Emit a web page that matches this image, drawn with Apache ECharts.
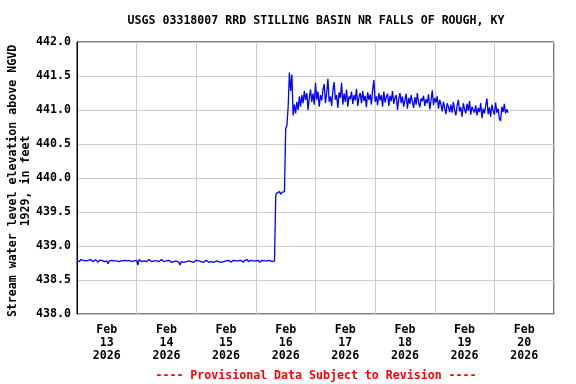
<!DOCTYPE html>
<html>
<head>
<meta charset="utf-8">
<script src="https://cdn.jsdelivr.net/npm/echarts@6/dist/echarts.min.js"></script>
<style>html,body{margin:0;padding:0;background:#fff}#c{width:576px;height:384px}</style>
</head>
<body>
<div id="c"></div>
<script>
const titleText = 'USGS 03318007 RRD STILLING BASIN NR FALLS OF ROUGH, KY';
const footerText = '---- Provisional Data Subject to Revision ----';
const yAxisName = 'Stream water level elevation above NGVD\n1929, in feet';
const dayLabels = ['Feb\n13\n2026','Feb\n14\n2026','Feb\n15\n2026','Feb\n16\n2026','Feb\n17\n2026','Feb\n18\n2026','Feb\n19\n2026','Feb\n20\n2026'];
const yMin = 438.0, yMax = 442.0, yStep = 0.5;
const stepHours = 0.5; // readings every 30 minutes from Feb 13 00:00
const totalHours = 192;

const baseline = [
438.78,438.79,438.77,438.80,438.78,438.79,438.81,438.78,438.77,438.79,438.78,438.80,438.79,438.77,438.78,438.80,438.78,438.76,438.79,438.78,
438.79,438.78,438.77,438.79,438.78,438.74,438.78,438.80,438.79,438.77,438.78,438.79,438.78,438.80,438.77,438.79,438.78,438.77,438.79,438.78,
438.78,438.80,438.79,438.78,438.77,438.79,438.78,438.76,438.79,438.72,438.80,438.78,438.77,438.79,438.78,438.79,438.77,438.78,438.80,438.78,
438.77,438.79,438.78,438.76,438.78,438.79,438.77,438.78,438.80,438.78,438.77,438.79,438.78,438.77,438.79,438.78,438.76,438.78,438.77,438.79,
438.78,438.77,438.76,438.72,438.77,438.78,438.76,438.78,438.77,438.79,438.78,438.76,438.77,438.78,438.76,438.77,438.79,438.77,438.78,438.76,
438.77,438.78,438.76,438.77,438.79,438.77,438.76,438.78,438.77,438.78,438.76,438.77,438.78,438.80,438.77,438.78,438.76,438.78,438.77,438.79,
438.78,438.77,438.79,438.78,438.76,438.78,438.79,438.77,438.78,438.80,438.78,438.77,438.79,438.78,438.76,438.79,438.78,438.80,438.77,438.78,
438.79,438.77,438.78,438.80,438.78,438.77,438.79,438.76,438.78,438.79,438.77,438.78,438.80,438.78,438.76,438.79,438.78,438.77,438.79,438.78
];
const firstRise = [439.75,439.78,439.77,439.80,439.76,439.79,439.78,439.80];
const secondRise = [440.72,440.78,441.05,441.55,441.28,441.52,440.92,441.08,440.95,441.12,441.00,441.20,441.05];
const highStage = [
441.22,441.10,441.28,441.15,441.25,441.00,441.18,441.30,441.12,441.24,441.08,441.40,441.15,441.27,441.05,441.22,441.14,441.30,441.38,441.10,
441.25,441.46,441.12,441.20,441.06,441.28,441.41,441.15,441.22,441.03,441.26,441.18,441.40,441.08,441.24,441.12,441.30,441.05,441.20,441.16,
441.27,441.09,441.22,441.14,441.31,441.06,441.19,441.25,441.10,441.28,441.13,441.21,441.04,441.26,441.15,441.23,441.08,441.30,441.44,441.12,
441.20,441.07,441.25,441.14,441.22,441.05,441.27,441.11,441.19,441.24,441.06,441.21,441.13,441.28,441.09,441.18,441.22,441.00,441.16,441.25
];
const recession = [
441.10,441.20,441.05,441.15,441.24,441.02,441.18,441.09,441.22,441.12,441.03,441.19,441.08,441.25,441.11,441.04,441.17,441.13,441.21,441.06,
441.16,441.10,441.23,441.01,441.14,441.29,441.07,441.18,441.11,441.20,441.02,441.15,441.08,440.98,441.12,441.03,440.94,441.10,441.05,440.97,
441.08,440.96,441.12,441.00,440.92,441.06,441.15,440.98,441.04,440.90,441.10,441.01,440.95,441.09,440.99,441.13,440.93,441.05,441.00,440.96,
441.07,440.92,441.03,440.97,441.10,440.88,441.02,440.95,441.06,441.17,440.94,441.04,440.90,441.08,440.99,440.93,441.11,440.96,441.02,440.87,
440.84,441.05,440.97,441.09,440.95,441.01,440.96
];

const levels = baseline.concat(firstRise, secondRise, highStage, recession);
const seriesData = levels.map((v, i) => [i * stepHours, v]);

const FONT = 'DejaVu Sans Mono';
const FONT_CSS = 'bold 11.6px "DejaVu Sans Mono"';
const chart = echarts.init(document.getElementById('c'), null, {renderer: 'canvas'});
chart.setOption({
  animation: false,
  backgroundColor: '#fff',
  graphic: [
    {type: 'text', x: 316, y: 21, style: {text: titleText, textAlign: 'center', textVerticalAlign: 'middle',
      font: FONT_CSS, fill: '#000'}},
    {type: 'text', x: 316, y: 376, style: {text: footerText, textAlign: 'center', textVerticalAlign: 'middle',
      font: FONT_CSS, fill: '#ff0000'}},
    {type: 'text', x: 19, y: 181, rotation: Math.PI / 2, style: {text: yAxisName, textAlign: 'center', textVerticalAlign: 'middle',
      font: FONT_CSS, fill: '#000', lineHeight: 13}}
  ],
  grid: {left: 77, right: 22, top: 42, bottom: 70, containLabel: false, outerBoundsMode: 'none',
    show: true, borderColor: '#000', borderWidth: 1, backgroundColor: 'transparent'},
  xAxis: [
    {type: 'value', min: 0, max: totalHours, interval: 24,
     axisLine: {show: false}, axisTick: {show: false}, axisLabel: {show: false},
     splitLine: {show: true, lineStyle: {color: '#cccccc', width: 1}}},
    {type: 'category', data: dayLabels, boundaryGap: true, position: 'bottom',
     axisLine: {show: false}, axisTick: {show: false}, splitLine: {show: false},
     axisLabel: {fontFamily: FONT, fontWeight: 'bold', fontSize: 11.6, color: '#000', lineHeight: 13, margin: 9, interval: 0}}
  ],
  yAxis: {
    type: 'value', min: yMin, max: yMax, interval: yStep,
    axisLine: {show: true, lineStyle: {color: '#000'}}, axisTick: {show: false},
    axisLabel: {fontFamily: FONT, fontWeight: 'bold', fontSize: 11.6, color: '#000', margin: 6,
      formatter: v => v.toFixed(1)},
    splitLine: {show: true, lineStyle: {color: '#cccccc', width: 1}}
  },
  series: [{
    type: 'line', xAxisIndex: 0, data: seriesData, showSymbol: false, symbol: 'none',
    lineStyle: {color: '#0000ff', width: 1.3}, itemStyle: {color: '#0000ff'}
  }]
});
</script>
</body>
</html>
